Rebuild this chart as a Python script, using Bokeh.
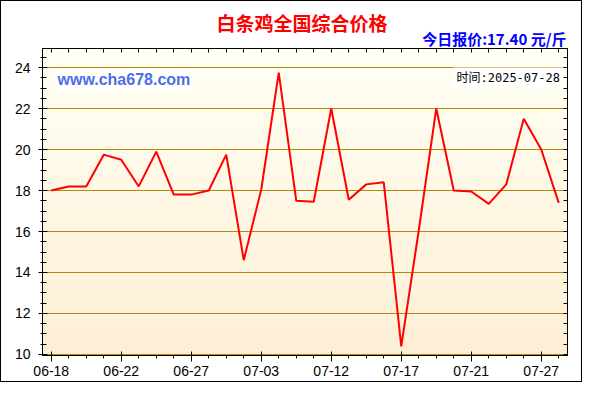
from bokeh.plotting import figure
from bokeh.models import Range1d, LinearAxis, FixedTicker, Label, BoxAnnotation, Title
from bokeh.embed import file_html
from bokeh.resources import INLINE

# ---- data ----
title_text = "白条鸡全国综合价格"
price_text = "今日报价:17.40 元/斤"
site_text = "www.cha678.com"
date_text = "时间:2025-07-28"
tick_labels = ["06-18", "06-22", "06-27", "07-03", "07-12", "07-17", "07-21", "07-27"]
prices = [18.0, 18.2, 18.2, 19.75, 19.5, 18.2, 19.9, 17.8, 17.8, 18.0,
          19.75, 14.6, 18.05, 23.75, 17.5, 17.45, 22.0, 17.55, 18.3, 18.4,
          10.4, 16.05, 22.0, 18.0, 17.95, 17.35, 18.3, 21.5, 20.0, 17.4]
y_ticks = [10, 12, 14, 16, 18, 20, 22, 24]

xs = list(range(len(prices)))
label_pos = list(range(0, len(prices), 4))[:len(tick_labels)]

p = figure(width=582, height=382, output_backend="svg", toolbar_location=None, title_location=None,
           x_range=Range1d(-0.5, len(prices) - 0.5), y_range=Range1d(9.95, 24.93),
           min_border_left=41, min_border_right=16, min_border_top=47, min_border_bottom=28)
p.styles = {"border": "1px solid black"}
p.background_fill_color = "#FFFFF4"
p.border_fill_color = "white"
p.outline_line_color = "black"
p.outline_line_width = 1

# gradient background bands
n_bands = 40
top_c = (255, 255, 244)
bot_c = (253, 239, 213)
y0, y1 = 9.95, 24.93
for i in range(n_bands):
    t = i / (n_bands - 1)
    c = tuple(int(round(top_c[k] + (bot_c[k] - top_c[k]) * t)) for k in range(3))
    hi = y1 - (y1 - y0) * i / n_bands
    lo = y1 - (y1 - y0) * (i + 1) / n_bands
    p.add_layout(BoxAnnotation(bottom=lo - 0.01, top=hi + 0.01, fill_color="#%02x%02x%02x" % c,
                               fill_alpha=1, line_color=None, level="image"))

p.xgrid.visible = False
p.ygrid.grid_line_color = "#B8860B"
p.ygrid.grid_line_width = 1
p.ygrid.ticker = FixedTicker(ticks=y_ticks)

p.line(xs, prices, line_color="#FF0000", line_width=2)

xtick = FixedTicker(ticks=label_pos, minor_ticks=xs)
ytick = FixedTicker(ticks=y_ticks, minor_ticks=[v / 2 for v in range(20, 50)])

xa = p.xaxis[0]
xa.ticker = xtick
xa.major_label_overrides = {pos: lab for pos, lab in zip(label_pos, tick_labels)}
xa.major_tick_in = 4
xa.major_tick_out = 6
xa.minor_tick_in = 0
xa.minor_tick_out = 3
xa.major_label_standoff = 4
ya = p.yaxis[0]
ya.ticker = ytick
ya.major_tick_in = 5
ya.major_tick_out = 4
ya.minor_tick_in = 4
ya.minor_tick_out = 2
ya.major_label_standoff = 8
for ax in (xa, ya):
    ax.axis_line_color = "black"
    ax.major_tick_line_color = "black"
    ax.minor_tick_line_color = "black"
    ax.major_label_text_font = "Liberation Sans"
    ax.major_label_text_font_size = "14px"
    ax.major_label_text_color = "black"

# tick-only axes on top and right (no labels: only minor ticks)
top_ax = LinearAxis(ticker=FixedTicker(ticks=[], minor_ticks=xs), minor_tick_in=4, minor_tick_out=0,
                    major_tick_in=0, major_tick_out=0, axis_line_color="black", major_label_standoff=0)
right_ax = LinearAxis(ticker=FixedTicker(ticks=[], minor_ticks=[v / 2 for v in range(20, 50)]),
                      minor_tick_in=4, minor_tick_out=0, major_tick_in=0, major_tick_out=0,
                      axis_line_color="black", major_label_standoff=0)
p.add_layout(top_ax, "above")
p.add_layout(right_ax, "right")

# titles
p.add_layout(Title(text=price_text, align="right", offset=1, standoff=0,
                   text_font="Noto Sans CJK SC", text_font_style="bold", text_font_size="15px",
                   text_color="#0000FF"), "above")
p.add_layout(Title(text=title_text, align="left", offset=174, standoff=-21,
                   text_font="Noto Sans CJK SC", text_font_style="bold", text_font_size="19px",
                   text_color="#FF0000"), "above")

# in-frame texts (screen units relative to the plot frame: x from left, y up from bottom)
p.add_layout(Label(x=13, y=276, x_units="screen", y_units="screen", text=site_text,
                   text_font="Liberation Sans", text_font_style="bold", text_font_size="16px",
                   text_color="#4D6EEA", text_align="left", text_baseline="middle",
                   background_fill_color="white", background_fill_alpha=0.7, padding=2))
p.add_layout(Label(x=411, y=278, x_units="screen", y_units="screen", text=date_text,
                   text_font="'DejaVu Sans Mono', 'Noto Sans CJK SC'", text_font_size="12px",
                   text_color="black", text_align="left", text_baseline="middle",
                   background_fill_color="white", padding=3))

open("out.html", "w").write(file_html(p, INLINE))
